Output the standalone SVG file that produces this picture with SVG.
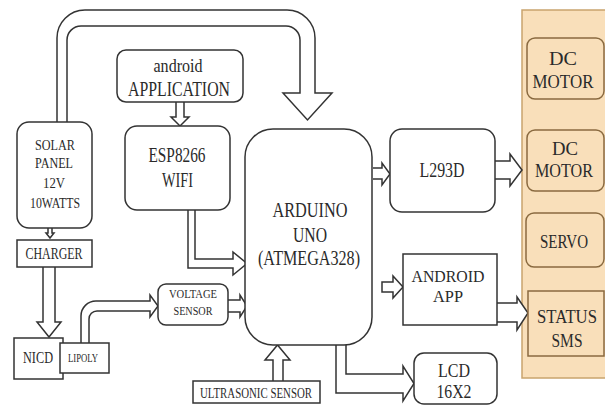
<svg xmlns="http://www.w3.org/2000/svg" width="605" height="407" viewBox="0 0 605 407">
<style>
.box{fill:#fff;stroke:#333;stroke-width:1.5}
.arr{fill:#fff;stroke:#333;stroke-width:1.5;stroke-linejoin:miter}
.pbox{fill:#f9dfba;stroke:#8a6a40;stroke-width:1.5}
text{font-family:"Liberation Serif","Times New Roman",serif;fill:#2a2a2a;text-anchor:middle}
</style>
<rect x="0" y="0" width="605" height="407" fill="#fff"/>
<g id="panel"><rect x="522" y="10" width="90" height="368" fill="#f9dfba" stroke="#c9a46d" stroke-width="1.5"/></g>
<g id="connectors">
<path class="arr" d="M57,122 L57,38 A28,28 0 0 1 85,10 L287,10 A28,28 0 0 1 315,38 L315,93 L332,93 L307.5,120 L283,93 L300,93 L300,40 A14,14 0 0 0 286,26 L81,26 A14,14 0 0 0 67,40 L67,122"/>
<path class="arr" d="M176,102 L176,117 L171,117 L180,126 L189,117 L184,117 L184,102"/>
<path class="arr" d="M188,210 L188,268 L233,268 L233,275 L247,263.5 L233,252 L233,259 L195,259 L195,210"/>
<path class="arr" d="M48,228 L48,233 L46,233 L50,238 L54,233 L52,233 L52,228"/>
<path class="arr" d="M43,267 L43,322 L37,322 L49,337 L61,322 L55,322 L55,267"/>
<path class="arr" d="M81,343 L81,316 A15,15 0 0 1 96,301 L150,301 L150,295 L158,306 L150,317 L150,311 L97,311 A8,8 0 0 0 89,319 L89,343"/>
<path class="arr" d="M228,300 L240,300 L240,295 L247,306 L240,317 L240,312 L228,312"/>
<path class="arr" d="M373,168 L382,168 L382,163 L390,174 L382,185 L382,179 L373,179"/>
<path class="arr" d="M495,161 L510,161 L510,154 L522,170 L510,186 L510,179 L495,179"/>
<path class="arr" d="M382,282 L393,282 L393,276 L403,287 L393,298 L393,292 L382,292 Z"/>
<path class="arr" d="M497,303 L517,303 L517,297 L528,313 L517,330 L517,322 L497,322"/>
<path class="arr" d="M336,345 L336,393 L403,393 L403,401 L414,383.5 L403,366 L403,374 L346,374 L346,345"/>
<path class="arr" d="M273,381 L273,360 L265,360 L277.5,345 L290,360 L283,360 L283,381"/>
</g>
<g id="android-application"><rect class="box" x="117" y="50" width="126" height="52" rx="9"/>
<text x="178" y="72" font-size="18" textLength="49" lengthAdjust="spacingAndGlyphs">android</text>
<text x="179" y="96" font-size="21" textLength="102" lengthAdjust="spacingAndGlyphs">APPLICATION</text></g>
<g id="esp8266"><rect class="box" x="125" y="126" width="105" height="84" rx="12"/>
<text x="177" y="162" font-size="20" textLength="57" lengthAdjust="spacingAndGlyphs">ESP8266</text>
<text x="177.5" y="187" font-size="20" textLength="31" lengthAdjust="spacingAndGlyphs">WIFI</text></g>
<g id="solar-panel"><rect class="box" x="17" y="122" width="75" height="106" rx="12"/>
<text x="55" y="150" font-size="15" textLength="40" lengthAdjust="spacingAndGlyphs">SOLAR</text>
<text x="54" y="168" font-size="15" textLength="38" lengthAdjust="spacingAndGlyphs">PANEL</text>
<text x="54" y="188" font-size="15" textLength="22" lengthAdjust="spacingAndGlyphs">12V</text>
<text x="55" y="208" font-size="15" textLength="50" lengthAdjust="spacingAndGlyphs">10WATTS</text></g>
<g id="charger"><rect class="box" x="17" y="240" width="75" height="27"/>
<text x="54" y="259" font-size="17" textLength="57" lengthAdjust="spacingAndGlyphs">CHARGER</text></g>
<g id="nicd"><rect class="box" x="14" y="338" width="49" height="41"/>
<text x="38" y="363" font-size="16" textLength="30" lengthAdjust="spacingAndGlyphs">NICD</text></g>
<g id="lipoly"><rect class="box" x="60" y="343" width="49" height="30"/>
<text x="83" y="362" font-size="12" textLength="30" lengthAdjust="spacingAndGlyphs">LIPOLY</text></g>
<g id="voltage-sensor"><rect class="box" x="158" y="284" width="70" height="41" rx="8"/>
<text x="193" y="298" font-size="12" textLength="48" lengthAdjust="spacingAndGlyphs">VOLTAGE</text>
<text x="193" y="315" font-size="12" textLength="39" lengthAdjust="spacingAndGlyphs">SENSOR</text></g>
<g id="arduino"><rect class="box" x="245" y="129" width="127" height="216" rx="28"/>
<text x="310" y="217" font-size="20" textLength="75" lengthAdjust="spacingAndGlyphs">ARDUINO</text>
<text x="310" y="242" font-size="20" textLength="34" lengthAdjust="spacingAndGlyphs">UNO</text>
<text x="309" y="265" font-size="20" textLength="102" lengthAdjust="spacingAndGlyphs">(ATMEGA328)</text></g>
<g id="l293d"><rect class="box" x="390" y="129" width="105" height="83" rx="12"/>
<text x="442" y="177" font-size="20" textLength="45" lengthAdjust="spacingAndGlyphs">L293D</text></g>
<g id="android-app"><rect class="box" x="403" y="254" width="94" height="71"/>
<text x="448" y="282" font-size="17" textLength="73" lengthAdjust="spacingAndGlyphs">ANDROID</text>
<text x="448" y="302" font-size="17" textLength="30" lengthAdjust="spacingAndGlyphs">APP</text></g>
<g id="lcd"><rect class="box" x="414" y="353" width="83" height="51" rx="10"/>
<text x="454" y="377" font-size="19" textLength="32" lengthAdjust="spacingAndGlyphs">LCD</text>
<text x="454" y="398" font-size="19" textLength="35" lengthAdjust="spacingAndGlyphs">16X2</text></g>
<g id="ultrasonic-sensor"><rect class="box" x="193" y="381" width="127" height="22"/>
<text x="256" y="398" font-size="14" textLength="112" lengthAdjust="spacingAndGlyphs">ULTRASONIC SENSOR</text></g>
<g id="dc-motor-1"><rect class="pbox" x="527" y="38" width="77" height="61" rx="8"/>
<text x="563" y="65" font-size="19" textLength="28" lengthAdjust="spacingAndGlyphs">DC</text>
<text x="563" y="88" font-size="19" textLength="61" lengthAdjust="spacingAndGlyphs">MOTOR</text></g>
<g id="dc-motor-2"><rect class="pbox" x="527" y="130" width="77" height="61" rx="8"/>
<text x="565" y="155" font-size="19" textLength="26" lengthAdjust="spacingAndGlyphs">DC</text>
<text x="564" y="177" font-size="19" textLength="58" lengthAdjust="spacingAndGlyphs">MOTOR</text></g>
<g id="servo"><rect class="pbox" x="526" y="213" width="78" height="54" rx="8"/>
<text x="564" y="248" font-size="19" textLength="48" lengthAdjust="spacingAndGlyphs">SERVO</text></g>
<g id="status-sms"><rect class="pbox" x="528" y="291" width="76" height="65" stroke="#3a2a18"/>
<text x="567" y="323" font-size="19" textLength="60" lengthAdjust="spacingAndGlyphs">STATUS</text>
<text x="567" y="347" font-size="19" textLength="31" lengthAdjust="spacingAndGlyphs">SMS</text></g>
</svg>
